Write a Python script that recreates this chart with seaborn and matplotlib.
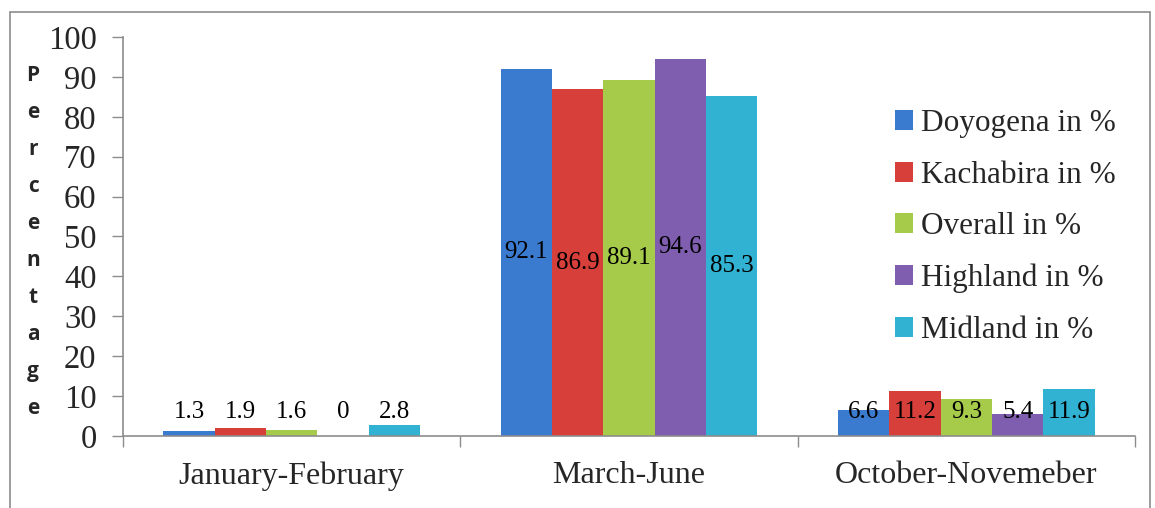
import pandas as pd
import seaborn as sns
import matplotlib.pyplot as plt
from matplotlib.patches import Rectangle

# chart data
periods = ['January-February', 'March-June', 'October-Novemeber']
series = ['Doyogena in %', 'Kachabira in %', 'Overall in %', 'Highland in %', 'Midland in %']
doyogena = [1.3, 92.1, 6.6]
kachabira = [1.9, 86.9, 11.2]
overall = [1.6, 89.1, 9.3]
highland = [0, 94.6, 5.4]
midland = [2.8, 85.3, 11.9]
colors = ['#3b7bcf', '#d63f3a', '#a6cb4a', '#7f5eaf', '#31b2d2']

values = [doyogena, kachabira, overall, highland, midland]
rows = []
for name, vals in zip(series, values):
    for p, v in zip(periods, vals):
        rows.append({'period': p, 'series': name, 'value': v})
df = pd.DataFrame(rows)

sns.set_style('white')
plt.rcParams['font.family'] = ['Liberation Serif', 'DejaVu Serif']

fig = plt.figure(figsize=(11.55, 5.08), dpi=100)
ax = fig.add_axes([0.1065, 0.1417, 0.8762, 0.7855])

sns.barplot(data=df, x='period', y='value', hue='series', palette=colors,
            width=0.76, saturation=1, edgecolor='none', ax=ax, legend=True)

# value labels
for cont, vals in zip(ax.containers, values):
    for bar, v in zip(cont, vals):
        x = bar.get_x() + bar.get_width() / 2
        y = max(v / 2, 6)
        ax.text(x, y, f'{v:g}', ha='center', va='center', fontsize=18, color='black')

ax.set_ylim(0, 100)
ax.set_xlim(-0.5, 2.5)
ax.set_yticks(range(0, 101, 10))
ax.set_xlabel('')
ax.set_ylabel('')
ax.tick_params(axis='y', labelsize=23.5, length=8, width=1, color='#8c8c8c', pad=11, left=True)
ax.tick_params(axis='x', labelsize=23, length=0, pad=18)
ax.set_xticks([-0.5, 0.5, 1.5, 2.5], minor=True)
ax.tick_params(axis='x', which='minor', length=8, width=1, color='#8c8c8c', bottom=True)
for s in ['top', 'right']:
    ax.spines[s].set_visible(False)
for s in ['left', 'bottom']:
    ax.spines[s].set_color('#8c8c8c')
    ax.spines[s].set_linewidth(1.2)

# vertical letter-by-letter axis title
fig.text(0.0286, 0.524, '\n'.join('Percentage'), ha='center', va='center',
         fontsize=15, fontweight='bold', family=['Open Sans', 'DejaVu Sans'],
         linespacing=2.0)

leg = ax.legend(loc='upper left', bbox_to_anchor=(0.75, 0.85), frameon=False,
                fontsize=22.5, handlelength=0.6, handleheight=0.6,
                handletextpad=0.25, labelspacing=0.72, borderaxespad=0)

# outer chart frame
fig.patches.append(Rectangle((0.0087, -0.01), 0.9870, 0.986, transform=fig.transFigure,
                             fill=False, edgecolor='#8c8c8c', linewidth=1.2))

fig.savefig('out.png', dpi=100)
